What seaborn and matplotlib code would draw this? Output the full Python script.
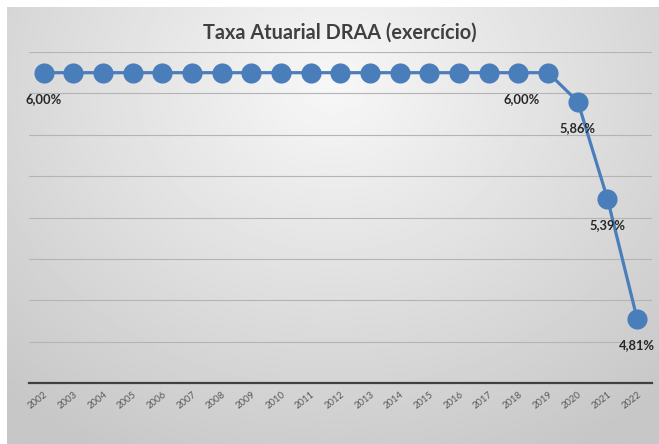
import numpy as np
import pandas as pd
import matplotlib
matplotlib.use("Agg")
import matplotlib.pyplot as plt
import seaborn as sns

# dados do gráfico
anos = [str(a) for a in range(2002, 2023)]
taxas = [6.00] * 18 + [5.86, 5.39, 4.81]
rotulos = {"2002": "6,00%", "2019": "6,00%", "2020": "5,86%", "2021": "5,39%", "2022": "4,81%"}
titulo = "Taxa Atuarial DRAA (exercício)"

sns.set_theme(style="white")
plt.rcParams["font.family"] = ["Lato", "DejaVu Sans"]

azul = "#4a7ebb"
W, H = 659, 444
fig = plt.figure(figsize=(W / 100, H / 100), dpi=100)
fig.patch.set_facecolor("white")

# fundo com gradiente radial (estilo Excel)
bg = fig.add_axes([7 / W, 0, 1 - 7 / W, 1 - 7 / H])
yy, xx = np.mgrid[0:1:300j, 0:1:400j]
r = np.sqrt(((xx - 0.5) / 0.75) ** 2 + ((yy - 0.18) / 0.95) ** 2)
r = np.clip(r, 0, 1)
img = 0.97 - 0.19 * r ** 1.0
bg.imshow(img, cmap="gray", vmin=0, vmax=1, aspect="auto", extent=[0, 1, 1, 0])
bg.set_axis_off()

# área do gráfico
ax = fig.add_axes([29 / W, (H - 383) / H, (652 - 29) / W, (383 - 52) / H])
ax.patch.set_alpha(0)
df = pd.DataFrame({"ano": anos, "taxa": taxas})
sns.lineplot(data=df, x="ano", y="taxa", sort=False, ax=ax, color=azul,
             linewidth=2.3, marker="o", markersize=14.5, markeredgewidth=0,
             zorder=3)

ax.set_xlim(-0.5, len(anos) - 0.5)
ax.set_ylim(4.5, 6.1)
ax.set_yticks(np.arange(4.5, 6.11, 0.2))
ax.yaxis.grid(True, color="#b4b4b4", linewidth=0.8)
ax.set_yticklabels([])
ax.tick_params(axis="y", length=0)
ax.tick_params(axis="x", length=0, pad=5)
ax.set_xlabel("")
ax.set_ylabel("")
for s in ["top", "right", "left"]:
    ax.spines[s].set_visible(False)
ax.spines["bottom"].set_color("#404040")
ax.spines["bottom"].set_linewidth(1.6)
ax.spines["bottom"].set_zorder(4)

ax.set_xticks(range(len(anos)))
ax.set_xticklabels(anos, rotation=38, ha="right", rotation_mode="anchor",
                   fontsize=6.8, color="#595959")

# rótulos de dados
for i, (a, v) in enumerate(zip(anos, taxas)):
    if a not in rotulos:
        continue
    dx = -27 if a == "2019" else 0
    ax.annotate(rotulos[a], (i, v), xytext=(dx * 0.72, -19), textcoords="offset points",
                ha="center", va="center", fontsize=9.3, fontweight="bold",
                color="#262626", zorder=5)

fig.text(340 / W, 1 - 33 / H, titulo, ha="center", va="center",
         fontsize=14.3, fontweight="bold", color="#404040")

fig.savefig("out.png", dpi=100)
